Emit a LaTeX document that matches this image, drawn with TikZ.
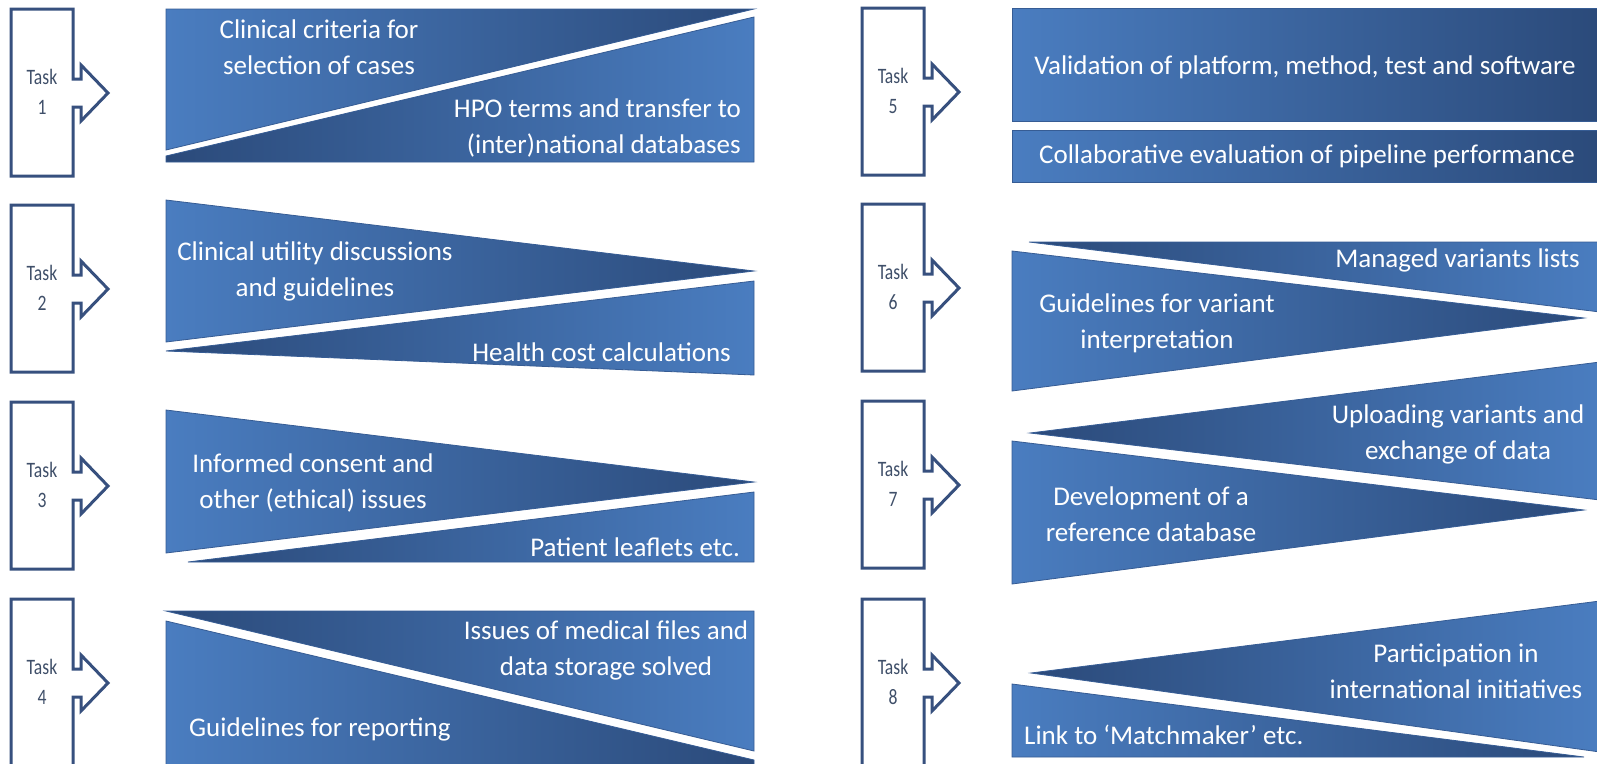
\documentclass[tikz,border=0pt]{standalone}
\usepackage{fontspec}
\setmainfont{Carlito}
\newfontfamily\taskfont{Carlito}[FakeStretch=0.8]
\definecolor{boxline}{HTML}{37507E}
\definecolor{tasktxt}{HTML}{3F4F69}
\definecolor{blight}{HTML}{4A7DC0}
\definecolor{bdark}{HTML}{2B4A7A}
\definecolor{bedge}{HTML}{365C94}
\tikzset{
  taskbox/.style={draw=boxline, line width=3pt, fill=white, line join=miter},
  wideL/.style={left color=blight, right color=bdark, draw=bedge, line width=0.8pt},
  wideR/.style={left color=bdark, right color=blight, draw=bedge, line width=0.8pt},
  ptext/.style={text=white, font=\fontsize{27}{36}\selectfont, inner sep=0pt},
  tasktext/.style={text=tasktxt, font=\taskfont\fontsize{22}{30}\selectfont, align=center, inner sep=0pt},
}
\newcommand\taskarrow[3]{%
  \pgfmathsetmacro\tR{#1+62}%
  \pgfmathsetmacro\tC{#2+84}%
  \draw[taskbox] (#1,#2) -- (\tR,#2) -- (\tR,\tC-14) -- (\tR+8,\tC-14) -- (\tR+8,\tC-28)
     -- (\tR+35,\tC) -- (\tR+8,\tC+28) -- (\tR+8,\tC+14) -- (\tR,\tC+14)
     -- (\tR,#2+167) -- (#1,#2+167) -- cycle;
  \node[tasktext] (task#3) at ({#1+31},\tC-1) {Task\\#3};
}
\begin{document}
\begin{tikzpicture}[x=1pt,y=-1pt]
\useasboundingbox (0,0) rectangle (1597,763);
\fill[white] (0,0) rectangle (1597,763);
\clip (0,0) rectangle (1597,763);

% task boxes
\taskarrow{11}{9}{1}
\taskarrow{11}{205}{2}
\taskarrow{11}{402}{3}
\taskarrow{11}{599}{4}
\taskarrow{862}{8}{5}
\taskarrow{862}{204}{6}
\taskarrow{862}{401}{7}
\taskarrow{862}{599}{8}

% panel 1
\shade[wideL] (166,9) -- (754,9) -- (166,150) -- cycle;
\shade[wideR] (166,156) -- (754,17) -- (754,162) -- (166,162) -- cycle;
\node[ptext, align=center] (p1a) at (319,47) {Clinical criteria for\\selection of cases};
\node[ptext, align=right, anchor=east] (p1b) at (741,128) {HPO terms and transfer to\\(inter)national databases};

% panel 2
\shade[wideL] (166,200) -- (754,271) -- (166,342) -- cycle;
\shade[wideR] (166,351) -- (754,281) -- (754,375) -- cycle;
\node[ptext, align=center] (p2a) at (315,271) {Clinical utility discussions\\and guidelines};
\node[ptext, anchor=east] (p2b) at (731,352) {Health cost calculations};

% panel 3
\shade[wideL] (166,410) -- (754,482) -- (166,553) -- cycle;
\shade[wideR] (188,562) -- (754,492) -- (754,562) -- cycle;
\node[ptext, align=center] (p3a) at (313,483) {Informed consent and\\other (ethical) issues};
\node[ptext, anchor=east] (p3b) at (740,547) {Patient leaflets etc.};

% panel 4
\shade[wideR] (166,611) -- (754,611) -- (754,751) -- cycle;
\shade[wideL] (166,621) -- (754,760) -- (754,775) -- (166,775) -- cycle;
\node[ptext, align=center] (p4a) at (606,650) {Issues of medical files and\\data storage solved};
\node[ptext, anchor=west] (p4b) at (189,729) {Guidelines for reporting};

% panel 5
\shade[wideL] (1012,8) rectangle (1600,121);
\shade[wideL] (1012,130) rectangle (1600,182);
\node[ptext] (p5a) at (1305,67) {Validation of platform, method, test and software};
\node[ptext] (p5b) at (1307,156) {Collaborative evaluation of pipeline performance};

% panel 6
\shade[wideR] (1029,242) -- (1600,242) -- (1600,312) -- cycle;
\shade[wideL] (1012,251) -- (1584,318) -- (1012,391) -- cycle;
\node[ptext, anchor=east] (p6a) at (1580,260) {Managed variants lists};
\node[ptext, align=center] (p6b) at (1157,323) {Guidelines for variant\\interpretation};

% panel 7
\shade[wideR] (1030,433) -- (1600,362) -- (1600,500) -- cycle;
\shade[wideL] (1012,441) -- (1584,510) -- (1012,584) -- cycle;
\node[ptext, align=center] (p7a) at (1458,434) {Uploading variants and\\exchange of data};
\node[ptext, align=center] (p7b) at (1151,514) {Development of a\\reference database};

% panel 8
\shade[wideR] (1031,673) -- (1600,601) -- (1600,752) -- cycle;
\shade[wideL] (1012,684) -- (1584,757) -- (1012,757) -- cycle;
\node[ptext, align=center] (p8a) at (1456,671) {Participation in\\international initiatives};
\node[ptext, anchor=west] (p8b) at (1024,735) {Link to ‘Matchmaker’ etc.};
\end{tikzpicture}
\end{document}
